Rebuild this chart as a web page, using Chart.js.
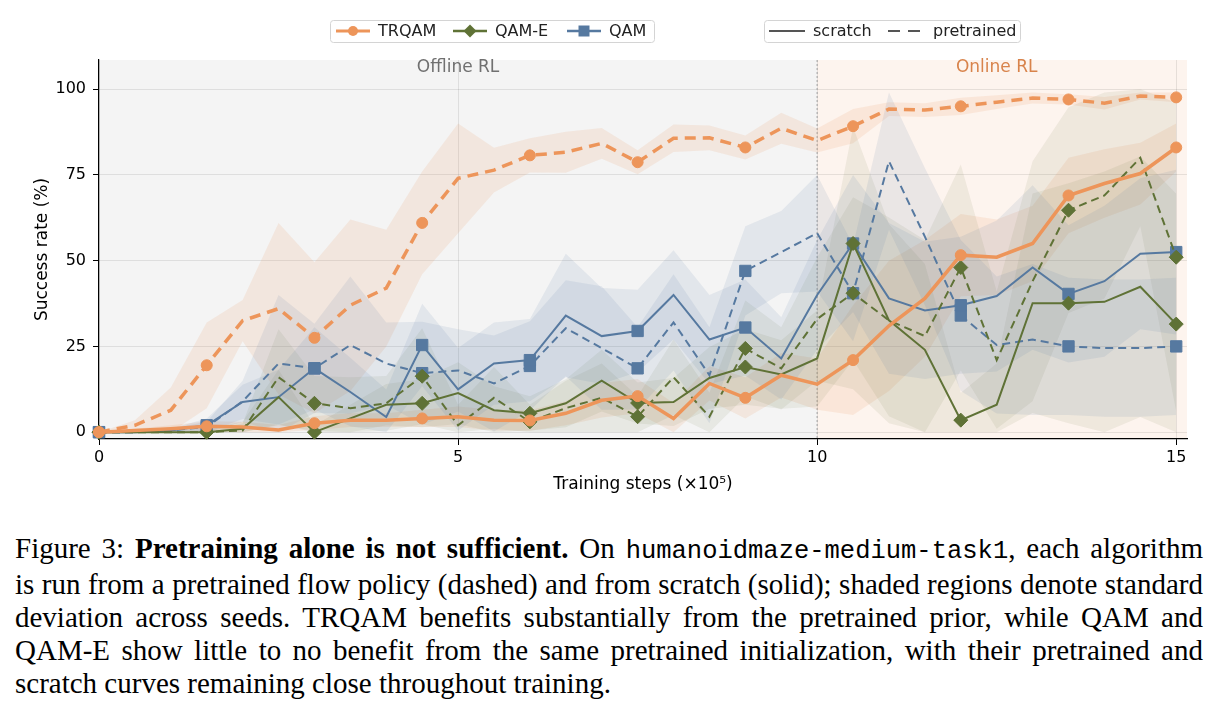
<!DOCTYPE html>
<html>
<head>
<meta charset="utf-8">
<script src="https://cdn.jsdelivr.net/npm/chart.js@4.4.1/dist/chart.umd.min.js"></script>
<style>
  body { margin: 0; background: #fff; width: 1219px; height: 710px; position: relative; overflow: hidden; }
  #myChart { position: absolute; left: 0; top: 0; }
  #caption {
    position: absolute; left: 15px; top: 532px; width: 1188px;
    font-family: 'Liberation Serif', 'Times New Roman', serif;
    font-size: 29px; line-height: 33px; color: #000;
  }
  #caption .ln { white-space: nowrap; }
  #caption code { font-family: 'Liberation Mono', 'DejaVu Sans Mono', monospace; font-size: 25.5px; }
</style>
</head>
<body>
<canvas id="myChart" width="1219" height="505"></canvas>
<div id="caption">
  <div class="ln"><span>Figure 3: <b>Pretraining alone is not sufficient.</b> On <code>humanoidmaze-medium-task1</code>, each algorithm</span></div>
  <div class="ln"><span>is run from a pretrained flow policy (dashed) and from scratch (solid); shaded regions denote standard</span></div>
  <div class="ln"><span>deviation across seeds. TRQAM benefits substantially from the pretrained prior, while QAM and</span></div>
  <div class="ln"><span>QAM-E show little to no benefit from the same pretrained initialization, with their pretrained and</span></div>
  <div class="ln last"><span>scratch curves remaining close throughout training.</span></div>
</div>
<script>
/* ------------------------------ Données ------------------------------ */
const steps = [0, 0.5, 1, 1.5, 2, 2.5, 3, 3.5, 4, 4.5, 5, 5.5, 6, 6.5, 7, 7.5, 8, 8.5, 9, 9.5, 10, 10.5, 11, 11.5, 12, 12.5, 13, 13.5, 14, 14.5, 15]

const trqamPre    = [0, 2, 6.4, 19.5, 32.5, 36, 27.5, 37, 42, 61, 74, 76.4, 80.7, 81.6, 84.2, 78.7, 85.7, 85.8, 83, 88.6, 85, 89.2, 94.2, 93.9, 95, 96.2, 97.4, 97, 95.9, 98, 97.6]
const trqamPreStd = [0, 1.5, 6.6, 12.5, 6, 25, 22, 25, 17, 15, 16, 6.5, 5, 6, 4.5, 3.5, 4, 3.6, 3.5, 4.5, 3.5, 5, 2, 2, 2.5, 2, 1.6, 1.5, 1.8, 1, 1.4]
const trqamScr    = [0, 0.5, 1, 1.7, 1.5, 0.6, 2.6, 3.5, 3.5, 4, 4.5, 3.5, 3.4, 5.5, 9.3, 10.5, 4, 14.2, 10, 16.6, 14, 21, 31, 39, 51.6, 51, 55, 69, 72.5, 75.4, 83]
const trqamScrStd = [0, 0.5, 1, 1.5, 1.5, 1.5, 2, 2, 2, 2.5, 3, 3, 3, 3.5, 5, 5, 4.5, 5, 6, 6.5, 7.5, 16, 19, 17, 12, 11, 11, 11, 10, 9, 7]

const qamePre    = [0, 0, 0, 0, 0.5, 16, 8.4, 7, 8.4, 16.3, 2, 10, 3, 7, 10, 4.5, 16, 4.5, 24.4, 18.6, 33, 40.5, 32.6, 28, 48, 21, 44, 64.7, 69, 80, 51]
const qamePreStd = [0, 0, 0, 0.5, 2, 14, 8, 9, 8, 14, 6, 9, 5, 8, 10, 6, 11, 7, 14, 12, 18, 28, 30, 28, 30, 20, 35, 30, 30, 20, 45]
const qameScr    = [0, 0, 0, 0, 1, 10.2, 0, 4, 8, 8.4, 11.4, 6.4, 5.5, 8.4, 15, 8.5, 8.8, 15.8, 19, 16.8, 21.5, 55, 32.6, 24, 3.5, 8, 37.6, 37.6, 38, 42.4, 31.5]
const qameScrStd = [0, 0, 0.5, 1, 2, 8, 2, 4, 6, 7, 9, 7, 5, 7, 9, 6, 7, 9, 11, 10, 14, 34, 28, 25, 8, 12, 32, 35, 38, 38, 38]

const qamPre    = [0, 0, 0.5, 1.5, 9, 20, 18.6, 25.4, 20, 17.2, 18, 14.2, 19.3, 30.3, 24.5, 18.6, 32, 16.6, 47, 52.5, 58, 40.5, 79, 57, 34, 25.4, 27, 25, 24.5, 24.5, 25]
const qamPreStd = [0, 0, 0.5, 1.5, 6, 20, 13, 20, 12, 15, 12, 14, 13, 14, 18, 12, 14, 14, 13, 12, 17, 14, 20, 20, 22, 20, 22, 20, 20, 20, 20]
const qamScr    = [0, 0, 0.5, 2, 8.8, 10.2, 18.6, 11.7, 4.4, 25.4, 12.5, 20, 21, 34, 28, 29.5, 40, 27, 30.5, 21.5, 40, 55, 39, 35.5, 37, 39.7, 48, 40.3, 44, 52, 52.5]
const qamScrStd = [0, 0, 0.5, 2, 5, 8, 12, 10, 8, 12, 12, 12, 12, 18, 14, 12, 13, 13, 14, 12, 16, 20, 22, 20, 20, 22, 24, 20, 22, 22, 24]

const xTicks = [0, 5, 10, 15]
const yTicks = [0, 25, 50, 75, 100]

const ORANGE = '#ED955A'
const GREEN = '#5F7236'
const BLUE = '#5679A0'
const FONT = "'DejaVu Sans', sans-serif"

/* ------------------------------ Légende (texte justifié) ------------------------------ */
document.querySelectorAll('#caption .ln').forEach(line => {
    if (line.classList.contains('last')) return
    const span = line.querySelector('span')
    const w = span.getBoundingClientRect().width
    const spaces = (span.textContent.match(/ /g) || []).length
    line.style.wordSpacing = ((1188 - w) / spaces) + 'px'
})

/* ------------------------------ Datasets ------------------------------ */
let datasets = []

function pts(arr){
    return arr.map((v, i) => ({ x: steps[i], y: v }))
}

function addBand(mean, std, fillColor){
    const lower = mean.map((m, i) => Math.max(0, m - std[i]))
    const upper = mean.map((m, i) => Math.min(100, m + std[i]))
    datasets.push({ data: pts(lower), borderWidth: 0, pointRadius: 0, fill: false, order: 20 })
    datasets.push({ data: pts(upper), borderWidth: 0, pointRadius: 0, fill: '-1', backgroundColor: fillColor, order: 20 })
}

function addLine(mean, color, width, dash, style, radius, order){
    datasets.push({
        data: pts(mean),
        borderColor: color,
        backgroundColor: color,
        borderWidth: width,
        borderDash: dash,
        pointStyle: style,
        pointRadius: ctx => ctx.dataIndex % 3 === 0 ? radius : 0,
        pointBorderWidth: 1,
        pointBorderColor: color,
        pointBackgroundColor: color,
        fill: false,
        clip: false,
        order: order
    })
}

addBand(qamPre, qamPreStd, 'rgba(86,121,160,0.11)')
addBand(qamScr, qamScrStd, 'rgba(86,121,160,0.11)')
addBand(qamePre, qamePreStd, 'rgba(95,114,54,0.09)')
addBand(qameScr, qameScrStd, 'rgba(95,114,54,0.09)')
addBand(trqamScr, trqamScrStd, 'rgba(237,149,90,0.14)')
addBand(trqamPre, trqamPreStd, 'rgba(237,149,90,0.14)')

addLine(qamPre, BLUE, 2, [8, 5], 'rect', 8, 6)
addLine(qamScr, BLUE, 2, [], 'rect', 8, 5)
addLine(qamePre, GREEN, 2, [8, 5], 'rectRot', 7, 4)
addLine(qameScr, GREEN, 2, [], 'rectRot', 7, 3)
addLine(trqamScr, ORANGE, 3.5, [], 'circle', 5.5, 2)
addLine(trqamPre, ORANGE, 3.5, [11, 7], 'circle', 5.5, 1)

/* ------------------------------ Fond + légende ------------------------------ */
const regionsPlugin = {
    id: 'regions',
    beforeDraw(chart){
        const {ctx, chartArea, scales} = chart
        const x10 = scales.x.getPixelForValue(10)
        ctx.save()
        ctx.fillStyle = '#F4F4F4'
        ctx.fillRect(chartArea.left, chartArea.top, x10 - chartArea.left, chartArea.bottom - chartArea.top)
        ctx.fillStyle = '#FDF4EE'
        ctx.fillRect(x10, chartArea.top, chartArea.right - x10, chartArea.bottom - chartArea.top)
        ctx.restore()
    },
    beforeDatasetsDraw(chart){
        const {ctx, chartArea, scales} = chart
        const x10 = scales.x.getPixelForValue(10)
        ctx.save()
        ctx.strokeStyle = '#AAAAAA'
        ctx.lineWidth = 1.2
        ctx.setLineDash([2, 2])
        ctx.beginPath()
        ctx.moveTo(x10, chartArea.top)
        ctx.lineTo(x10, chartArea.bottom)
        ctx.stroke()
        ctx.setLineDash([])
        ctx.font = '17px ' + FONT
        ctx.textAlign = 'center'
        ctx.textBaseline = 'middle'
        ctx.fillStyle = '#707070'
        ctx.fillText('Offline RL', scales.x.getPixelForValue(5), chartArea.top + 8)
        ctx.fillStyle = '#D8834B'
        ctx.fillText('Online RL', scales.x.getPixelForValue(12.5), chartArea.top + 8)
        ctx.restore()
    }
}

function marker(ctx, style, x, y, color){
    ctx.fillStyle = color
    ctx.beginPath()
    if (style === 'circle') ctx.arc(x, y, 5, 0, Math.PI * 2)
    if (style === 'diamond'){ ctx.moveTo(x, y - 6.5); ctx.lineTo(x + 6.5, y); ctx.lineTo(x, y + 6.5); ctx.lineTo(x - 6.5, y); ctx.closePath() }
    if (style === 'square') ctx.rect(x - 5.5, y - 5.5, 11, 11)
    ctx.fill()
}

function box(ctx, x, y, w, h){
    ctx.beginPath()
    ctx.roundRect(x, y, w, h, 3)
    ctx.fillStyle = 'rgba(255,255,255,0.9)'
    ctx.fill()
    ctx.strokeStyle = '#D4D4D4'
    ctx.lineWidth = 1
    ctx.stroke()
}

const legendPlugin = {
    id: 'twoLegends',
    afterDraw(chart){
        const ctx = chart.ctx
        const y = 31
        ctx.save()
        ctx.font = '16px ' + FONT
        ctx.textBaseline = 'middle'
        box(ctx, 330.5, 20.5, 324, 22)
        box(ctx, 764.5, 20.5, 256, 22)

        const items = [
            {label: 'TRQAM', color: ORANGE, style: 'circle', x: 336, lw: 3},
            {label: 'QAM-E', color: GREEN, style: 'diamond', x: 453, lw: 2.5},
            {label: 'QAM', color: BLUE, style: 'square', x: 567, lw: 2.5}
        ]
        items.forEach(it => {
            ctx.strokeStyle = it.color
            ctx.lineWidth = it.lw
            ctx.beginPath(); ctx.moveTo(it.x, y); ctx.lineTo(it.x + 34, y); ctx.stroke()
            marker(ctx, it.style, it.x + 17, y, it.color)
            ctx.fillStyle = '#222'
            ctx.fillText(it.label, it.x + 42, y + 1)
        })

        ctx.strokeStyle = '#555'
        ctx.lineWidth = 2
        ctx.beginPath(); ctx.moveTo(769, y); ctx.lineTo(805, y); ctx.stroke()
        ctx.fillStyle = '#222'
        ctx.fillText('scratch', 813, y + 1)
        ctx.setLineDash([12, 8])
        ctx.beginPath(); ctx.moveTo(888, y); ctx.lineTo(920, y); ctx.stroke()
        ctx.setLineDash([])
        ctx.fillText('pretrained', 933, y + 1)
        ctx.restore()
    }
}

/* ------------------------------ Graphique ------------------------------ */
const config = {
    type: 'line',
    data: { datasets: datasets },
    options: {
        responsive: false,
        animation: false,
        devicePixelRatio: 1,
        layout: { padding: { top: 60, right: 32, left: 0, bottom: 0 } },
        plugins: { legend: { display: false }, tooltip: { enabled: false } },
        elements: { line: { tension: 0 } },
        scales: {
            x: {
                type: 'linear',
                min: 0,
                max: 15.15,
                afterFit: s => { s.height = 66 },
                afterBuildTicks: s => { s.ticks = xTicks.map(v => ({ value: v })) },
                ticks: { font: { family: FONT, size: 16 }, color: '#000', padding: 3 },
                grid: { color: 'rgba(0,0,0,0.09)', tickColor: '#000', tickLength: 6 },
                border: { color: '#000', width: 1.2 },
                title: { display: true, text: 'Training steps (×10⁵)', font: { family: FONT, size: 17 }, color: '#000', padding: { top: 0, bottom: 10 } }
            },
            y: {
                type: 'linear',
                min: -2.0,
                max: 108.5,
                afterFit: s => { s.width = 99 },
                afterBuildTicks: s => { s.ticks = yTicks.map(v => ({ value: v })) },
                ticks: { font: { family: FONT, size: 16 }, color: '#000', padding: 7 },
                grid: { color: 'rgba(0,0,0,0.09)', tickColor: '#000', tickLength: 6 },
                border: { color: '#000', width: 1.2 },
                title: { display: true, text: 'Success rate (%)', font: { family: FONT, size: 17 }, color: '#000', padding: { top: 32, bottom: 0 } }
            }
        }
    },
    plugins: [regionsPlugin, legendPlugin]
}

const myChart = new Chart(document.getElementById('myChart'), config)
</script>
</body>
</html>
